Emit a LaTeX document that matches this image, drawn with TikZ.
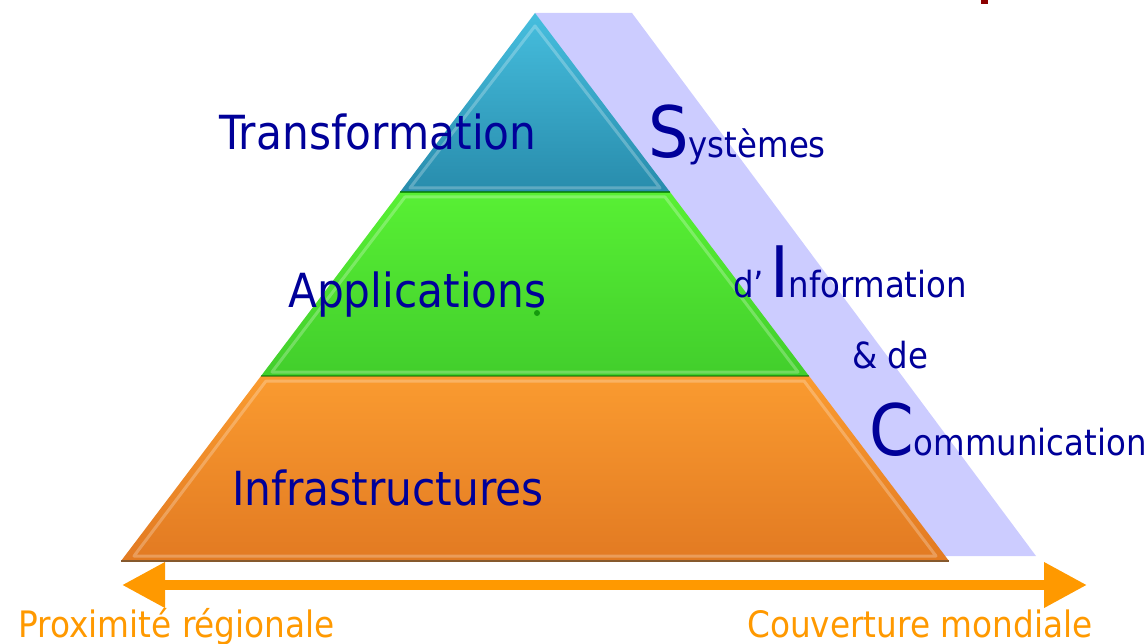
\documentclass[tikz,border=0pt]{standalone}
\usepackage{fontspec}
\setmainfont{DejaVu Sans}[FakeStretch=0.9]
\usetikzlibrary{arrows.meta}
\definecolor{txtblue}{RGB}{0,0,153}
\definecolor{arrorange}{RGB}{255,153,0}
\definecolor{bandcol}{RGB}{204,204,255}
\definecolor{tealtop}{RGB}{70,190,222}
\definecolor{tealbot}{RGB}{40,140,172}
\definecolor{greentop}{RGB}{88,240,52}
\definecolor{greenbot}{RGB}{66,206,44}
\definecolor{orangetop}{RGB}{250,155,48}
\definecolor{orangebot}{RGB}{226,122,34}
\tikzset{
  layerlabel/.style={anchor=base west, inner sep=0pt, text=txtblue, font=\fontsize{47bp}{50bp}\selectfont},
  sidelabel/.style={anchor=base west, inner sep=0pt, text=txtblue, font=\fontsize{36bp}{40bp}\selectfont},
  axislabel/.style={anchor=base west, inner sep=0pt, text=arrorange, font=\fontsize{36.4bp}{40bp}\selectfont},
  bevel/.style={draw=white, draw opacity=0.25, line width=3bp, line join=round},
}
\newcommand{\biglet}[1]{{\fontsize{71bp}{71bp}\selectfont #1}}
\begin{document}
\begin{tikzpicture}[x=1bp,y=-1bp]
\useasboundingbox (0,0) rectangle (1148,644);
% small mark top right
\fill[red!55!black] (981,0) rectangle (988,4);
% lavender band
\fill[bandcol] (535,13) -- (632,13) -- (1036,556) -- (900,556) -- cycle;
% layers
\shade[top color=tealtop, bottom color=tealbot] (535,13) -- (670,192) -- (400,192) -- cycle;
\draw[bevel] (535,26) -- (660,188) -- (410,188) -- cycle;
\shade[top color=greentop, bottom color=greenbot] (400,192) -- (670,192) -- (809,376) -- (261,376) -- cycle;
\draw[bevel] (405,197) -- (665,197) -- (798,372) -- (272,372) -- cycle;
\shade[top color=orangetop, bottom color=orangebot] (261,376) -- (809,376) -- (949,561) -- (121,561) -- cycle;
\draw[bevel] (266,381) -- (804,381) -- (936,556) -- (134,556) -- cycle;
\draw[line width=2bp, green!45!black, opacity=0.7] (400,192) -- (670,192);
\draw[line width=2bp, green!40!black, opacity=0.5] (261,376) -- (809,376);
\draw[line width=2.5bp, brown!70!black] (121,561) -- (949,561);
\fill[green!50!black, opacity=0.7] (537,313) circle (3);
% layer labels
\node[layerlabel] (tr) at (219,150) {Transformation};
\node[layerlabel] (ap) at (288,308) {Applications};
\node[layerlabel] (inf) at (232,505) {Infrastructures};
% side labels
\node[sidelabel] (sys) at (648,158) {\biglet{S}ystèmes};
\node[sidelabel] (inf2) at (733,298) {d’\,\biglet{I}nformation};
\node[sidelabel] (de) at (852,368) {\&~de};
\node[sidelabel] (com) at (869,455) {\biglet{C}ommunication};
% axis
\coordinate (L) at (122,585);
\coordinate (R) at (1087,585);
\draw[arrorange, line width=10bp, {Triangle[length=43bp,width=43bp]}-{Triangle[length=43bp,width=43bp]}] (L) -- (R);
\node[axislabel] (prox) at (18,637) {Proximité régionale};
\node[axislabel, anchor=base east] (couv) at (1093,637) {Couverture mondiale};
\end{tikzpicture}
\end{document}
